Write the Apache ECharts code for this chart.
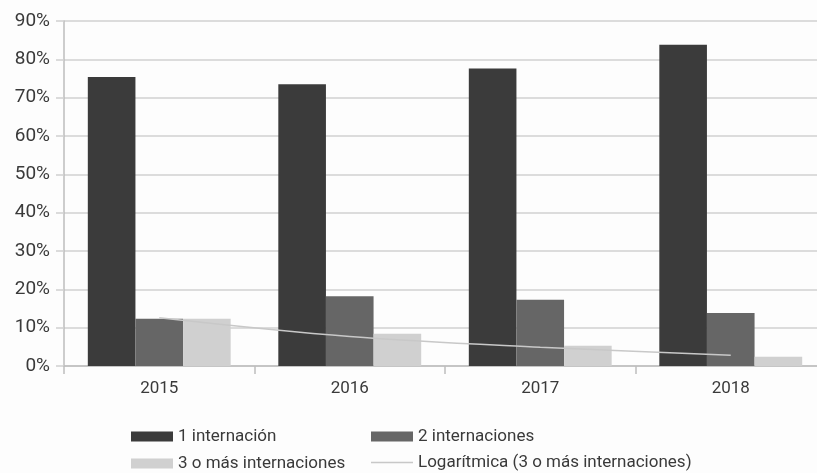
<!DOCTYPE html>
<html>
<head>
<meta charset="utf-8">
<script src="https://cdn.jsdelivr.net/npm/echarts@6/dist/echarts.min.js"></script>
<style>
  html, body { margin: 0; padding: 0; background: #fdfdfd; overflow: hidden; width: 817px; height: 473px; }
  #chart { width: 830px; height: 473px; }
</style>
</head>
<body>
<div id="chart"></div>
<script>
// Years on the category axis
const years = ['2015', '2016', '2017', '2018'];
// Share of patients by number of hospitalizations (percent)
const oneStay = [75.4, 73.5, 77.6, 83.8];
const twoStays = [12.3, 18.2, 17.3, 13.8];
const threePlus = [12.3, 8.4, 5.3, 2.4];
// Logarithmic trend of the "3 o más" series at each year
const logTrend = [12.6, 7.7, 4.9, 2.8];
// Value axis ticks
const yMin = 0, yMax = 90, yStep = 10;

const FONT = 'Roboto';
const TEXT = '#3a3a3a';

const chart = echarts.init(document.getElementById('chart'), null, { renderer: 'canvas' });

const legendText = { fontFamily: FONT, fontSize: 17, color: TEXT };

chart.setOption({
  animation: false,
  backgroundColor: '#fdfdfd',
  grid: { left: 64, top: 21, width: 762, height: 345, containLabel: false },
  legend: [
    { data: ['1 internación'], left: 131, top: 428, padding: 0, itemWidth: 42, itemHeight: 10, icon: 'rect', textStyle: legendText },
    { data: ['2 internaciones'], left: 371, top: 428, padding: 0, itemWidth: 42, itemHeight: 10, icon: 'rect', textStyle: legendText },
    { data: ['3 o más internaciones'], left: 131, top: 455, padding: 0, itemWidth: 42, itemHeight: 10, icon: 'rect', textStyle: legendText },
    { data: ['Logarítmica (3 o más internaciones)'], left: 371, top: 454, padding: 0, itemWidth: 42, itemHeight: 1.5, icon: 'rect', textStyle: legendText }
  ],
  xAxis: {
    type: 'category',
    data: years,
    boundaryGap: true,
    axisLine: { show: true, lineStyle: { color: '#bdbdbd', width: 1.5 } },
    axisTick: { show: true, length: 8, alignWithLabel: false, lineStyle: { color: '#bdbdbd', width: 1.5 } },
    axisLabel: { fontFamily: FONT, fontSize: 17, color: TEXT, margin: 14 },
    splitLine: { show: false }
  },
  yAxis: {
    type: 'value',
    min: yMin,
    max: yMax,
    interval: yStep,
    axisLine: { show: true, lineStyle: { color: '#bdbdbd', width: 1.5 } },
    axisTick: { show: true, length: 8, lineStyle: { color: '#d0d0d0', width: 1.5 } },
    axisLabel: { fontFamily: FONT, fontSize: 19, color: TEXT, margin: 14, formatter: '{value}%' },
    splitLine: { show: true, lineStyle: { color: '#d0d0d0', width: 1.5 } }
  },
  series: [
    { name: '1 internación', type: 'bar', data: oneStay, barGap: '0%', barCategoryGap: '25%',
      itemStyle: { color: '#3b3b3b' } },
    { name: '2 internaciones', type: 'bar', data: twoStays, barGap: '0%', barCategoryGap: '25%',
      itemStyle: { color: '#666666' } },
    { name: '3 o más internaciones', type: 'bar', data: threePlus, barGap: '0%', barCategoryGap: '25%',
      itemStyle: { color: '#d0d0d0' } },
    { name: 'Logarítmica (3 o más internaciones)', type: 'line', data: logTrend, smooth: 0.35,
      symbol: 'none', z: 5,
      itemStyle: { color: '#c8c8c8' },
      lineStyle: { color: '#c8c8c8', width: 1.5 } }
  ]
});
</script>
</body>
</html>
